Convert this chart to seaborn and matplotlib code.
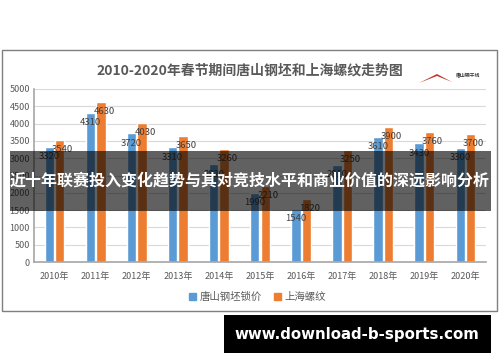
import numpy as np
import pandas as pd
import seaborn as sns
import matplotlib.pyplot as plt
from matplotlib.patches import Rectangle, Polygon

sns.set_theme(style="white")
plt.rcParams['font.family'] = ['Noto Sans CJK SC', 'DejaVu Sans']
plt.rcParams['axes.unicode_minus'] = False

# 数据
years = ['2010年', '2011年', '2012年', '2013年', '2014年', '2015年',
         '2016年', '2017年', '2018年', '2019年', '2020年']
tangshan = [3320, 4310, 3720, 3310, 2820, 1990, 1540, 2810, 3610, 3430, 3300]
shanghai = [3540, 4630, 4030, 3650, 3260, 2210, 1820, 3250, 3900, 3760, 3700]
series_names = ['唐山钢坯锁价', '上海螺纹']
colors = ['#5B9BD5', '#ED7D31']

df = pd.DataFrame({
    'year': years * 2,
    'price': tangshan + shanghai,
    'series': [series_names[0]] * len(years) + [series_names[1]] * len(years),
})

W, H = 500, 362
fig = plt.figure(figsize=(5, 3.62), dpi=100)
ax = fig.add_axes([34 / W, 1 - 262 / H, (486 - 34) / W, (262 - 89) / H])

sns.barplot(data=df, x='year', y='price', hue='series', palette=colors,
            width=0.51, gap=0.11, ax=ax, legend=False, saturation=1)

ax.set_xlim(-0.5, 10.5)
ax.set_ylim(0, 5000)
ax.set_yticks(range(0, 5001, 500))
ax.yaxis.grid(True, color='#D9D9D9', lw=0.8)
ax.set_axisbelow(True)
ax.set_xlabel('')
ax.set_ylabel('')
for s in ['top', 'right']:
    ax.spines[s].set_visible(False)
ax.spines['left'].set_color('#A6A6A6')
ax.spines['bottom'].set_color('#A6A6A6')
ax.spines['left'].set_linewidth(1.2)
ax.spines['bottom'].set_linewidth(1.2)
ax.tick_params(axis='both', length=0, labelsize=6.5, colors='#595959', pad=3)
ax.tick_params(axis='x', pad=7)

# 数据标签
for i, c in enumerate(ax.containers):
    dx = 0 if i == 0 else 3
    for bar, v in zip(c, tangshan if i == 0 else shanghai):
        ax.annotate(str(v), (bar.get_x() + bar.get_width() / 2, v),
                    xytext=(dx * 0.72, -7), textcoords='offset points',
                    ha='center', va='center', fontsize=6.8, color='#404040')

# 图例
handles = [Rectangle((0, 0), 1, 1, color=c) for c in colors]
fig.legend(handles, series_names, loc='center', bbox_to_anchor=(0.515, 1 - 297 / H),
           ncol=2, frameon=False, fontsize=7.5, handlelength=0.7, handleheight=0.7,
           handletextpad=0.3, columnspacing=1.2, labelcolor='#595959')

# 标题
fig.text(250 / W, 1 - 71 / H, '2010-2020年春节期间唐山钢坯和上海螺纹走势图',
         ha='center', va='center', fontsize=10, fontweight='bold', color='#595959')

# 小logo
fig.patches.append(Polygon([[419 / W, 1 - 83 / H], [437 / W, 1 - 74 / H], [452 / W, 1 - 82 / H],
                            [437 / W, 1 - 76 / H]], closed=True, transform=fig.transFigure,
                           color='#C0392B', lw=0))
fig.text(468 / W, 1 - 76 / H, '唐山钢干线', ha='center', va='center', fontsize=3.5,
         fontweight='bold', color='#333333')

# 图表外框
fig.patches.append(Rectangle((2 / W, 1 - 311 / H), 495 / W, 261 / H, transform=fig.transFigure,
                             fill=False, ec='#7F7F7F', lw=1))

# 中间横幅
fig.patches.append(Rectangle((10 / W, 1 - 211 / H), 481 / W, 60 / H, transform=fig.transFigure,
                             fc='black', alpha=0.62, lw=0, zorder=5))
fig.text(250 / W, 1 - 181 / H, '近十年联赛投入变化趋势与其对竞技水平和商业价值的深远影响分析',
         ha='center', va='center', fontsize=11.5, fontweight='bold', color='white', zorder=6)

# 水印
fig.patches.append(Rectangle((224 / W, 1 - 353 / H), 267 / W, 38 / H, transform=fig.transFigure,
                             fc='black', lw=0, zorder=5))
fig.text(357 / W, 1 - 334 / H, 'www.download-b-sports.com', ha='center', va='center',
         fontsize=10.8, fontweight='bold', color='white', family='DejaVu Sans', zorder=6)

fig.savefig('out.png', dpi=100, facecolor='white')
